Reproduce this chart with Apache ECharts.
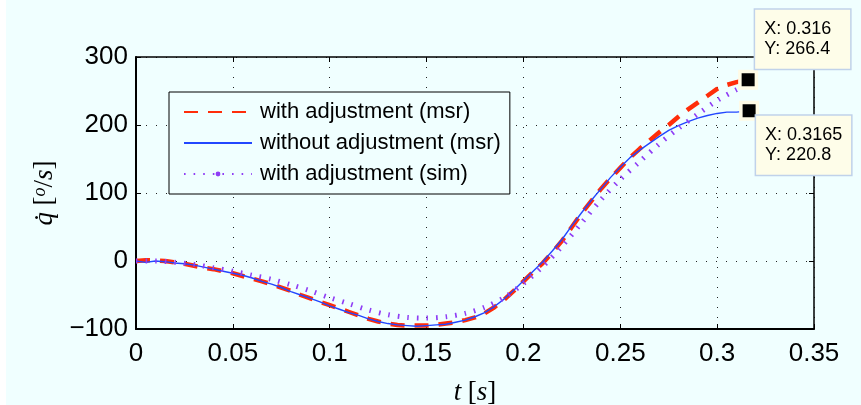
<!DOCTYPE html>
<html>
<head>
<meta charset="utf-8">
<script src="https://cdn.jsdelivr.net/npm/echarts@6/dist/echarts.min.js"></script>
<style>
  html, body { margin: 0; padding: 0; background: #fff; }
  #main { width: 861px; height: 405px; }
</style>
</head>
<body>
<div id="main"></div>
<script>
// time stamps [s]
var tMsr = [0, 0.005, 0.01, 0.015, 0.02, 0.025, 0.03, 0.035, 0.04, 0.045,
  0.05, 0.055, 0.06, 0.065, 0.07, 0.075, 0.08, 0.085, 0.09, 0.095,
  0.1, 0.105, 0.11, 0.115, 0.12, 0.125, 0.13, 0.135, 0.14, 0.145,
  0.15, 0.155, 0.16, 0.165, 0.17, 0.175, 0.18, 0.185, 0.19, 0.195,
  0.2, 0.205, 0.21, 0.215, 0.22, 0.225, 0.23, 0.235, 0.24, 0.245,
  0.25, 0.255, 0.26, 0.265, 0.27, 0.275, 0.28, 0.285, 0.29, 0.295,
  0.3, 0.305, 0.31];
var tEndAdj = 0.316;
var tEndNoAdj = 0.3165;
var tSim = [0, 0.01, 0.02, 0.03, 0.04, 0.05, 0.06, 0.07, 0.08, 0.09,
  0.1, 0.11, 0.12, 0.13, 0.14, 0.15, 0.16, 0.17, 0.18, 0.19,
  0.2, 0.21, 0.22, 0.23, 0.24, 0.25, 0.26, 0.27, 0.28, 0.29,
  0.3, 0.31, 0.316];

// qdot [deg/s]
var withAdjMsr = [0, 1, 1, 0, -2, -4, -7, -10, -12, -15,
  -18, -22, -26, -30, -34, -39, -44, -50, -55, -60,
  -65, -70, -75, -80, -85, -89, -92, -94, -95, -95,
  -95, -94, -92, -90, -87, -83, -77, -68, -57, -44,
  -30, -16, -3, 13, 30, 50, 70, 88, 106, 122,
  137, 152, 165, 177, 189, 200, 212, 223, 233, 243,
  253, 259, 263, 266.4];
var withoutAdjMsr = [0, -2, 0, -1, -3, -4, -6, -9, -12, -15,
  -18, -21, -25, -30, -34, -39, -45, -50, -55, -60,
  -66, -71, -76, -80, -85, -89, -92, -94, -95, -96,
  -95, -94, -93, -90, -87, -82, -76, -67, -56, -43,
  -29, -15, -1, 15, 32, 52, 71, 89, 106, 123,
  138, 152, 163, 173, 183, 192, 199, 205, 210, 214,
  217, 219, 219, 220.8];
var withAdjSim = [0, 0, -2, -5, -10, -15, -21, -27, -35, -44,
  -54, -63, -72, -79, -83, -84, -82, -77, -68, -54,
  -33, -8, 22, 56, 90, 120, 146, 172, 195, 216,
  236, 252, 259];

var tipPoints = [[tEndAdj, 266.4], [tEndNoAdj, 220.8]];

function pairs(ts, vs) {
  return vs.map(function (v, i) { return [ts[i], v]; });
}
var tAdj = tMsr.concat([tEndAdj]);
var tNoAdj = tMsr.concat([tEndNoAdj]);

var names = ['with adjustment (msr)', 'without adjustment (msr)', 'with adjustment (sim)'];
var font = 'Liberation Sans, Arial, Helvetica, sans-serif';
var serif = 'Liberation Serif, Times New Roman, serif';

var myChart = echarts.init(document.getElementById('main'));
var dotted = { color: '#222', width: 1, type: [1, 9] };
var option = {
  backgroundColor: '#f0ffff',
  animation: false,
  graphic: [{ type: 'rect', left: 0, top: 0, shape: { width: 6, height: 405 }, style: { fill: '#fff' }, silent: true }],
  grid: { left: 136, right: 47, top: 57, bottom: 76, containLabel: false, outerBoundsMode: 'none' },
  legend: {
    orient: 'vertical',
    left: 169, top: 92,
    data: [
      { name: names[0], itemStyle: { opacity: 0 } },
      { name: names[1], itemStyle: { opacity: 0 } },
      { name: names[2] }
    ],
    backgroundColor: '#f0ffff',
    borderColor: '#000', borderWidth: 1,
    padding: [9, 9, 9, 14],
    itemWidth: 68, itemHeight: 6, itemGap: 9,
    borderRadius: 0,
    textStyle: { fontFamily: font, fontSize: 22, color: '#000', lineHeight: 22, padding: [0, 0, 0, 3] }
  },
  xAxis: [{
    type: 'value', min: 0, max: 0.35, interval: 0.05,
    name: '{i|t}  {r|[}{i|s}{r|]}',
    nameLocation: 'middle', nameGap: 50,
    nameTextStyle: { rich: { i: { fontFamily: serif, fontStyle: 'italic', fontSize: 27, color: '#000' }, r: { fontFamily: serif, fontSize: 27, color: '#000' } } },
    axisLine: { onZero: false, lineStyle: { color: '#000', width: 2 } },
    axisTick: { inside: true, length: 5, lineStyle: { color: '#000', width: 1 } },
    axisLabel: { fontFamily: font, fontSize: 26, color: '#000', margin: 12,
      formatter: function (v) { return String(+v.toFixed(2)); } },
    splitLine: { show: true, lineStyle: dotted }
  }, {
    type: 'value', position: 'top', min: 0, max: 0.35, interval: 0.05,
    axisLine: { onZero: false, lineStyle: { color: '#000', width: 1.5 } },
    axisTick: { inside: true, length: 5, lineStyle: { color: '#000', width: 1 } },
    axisLabel: { show: false }, splitLine: { show: false }
  }],
  yAxis: [{
    type: 'value', min: -100, max: 300, interval: 100,
    name: '{i|q\u0307}  {r|[}{sup|o}{r|/}{i|s}{r|]}',
    nameLocation: 'middle', nameGap: 68, nameRotate: 90,
    nameTextStyle: { rich: {
      i: { fontFamily: serif, fontStyle: 'italic', fontSize: 27, color: '#000' },
      r: { fontFamily: serif, fontSize: 27, color: '#000' },
      sup: { fontFamily: serif, fontStyle: 'italic', fontSize: 18, color: '#000', verticalAlign: 'top' } } },
    axisLine: { onZero: false, lineStyle: { color: '#000', width: 2 } },
    axisTick: { inside: true, length: 5, lineStyle: { color: '#000', width: 1 } },
    axisLabel: { fontFamily: font, fontSize: 26, color: '#000', margin: 8,
      formatter: function (v) { return String(v).replace('-', '\u2212'); } },
    splitLine: { show: true, lineStyle: dotted }
  }, {
    type: 'value', position: 'right', min: -100, max: 300, interval: 100,
    axisLine: { onZero: false, lineStyle: { color: '#000', width: 1.5 } },
    axisTick: { inside: true, length: 5, lineStyle: { color: '#000', width: 1 } },
    axisLabel: { show: false }, splitLine: { show: false }
  }],
  series: [
    {
      name: names[0], type: 'line', symbol: 'none',
      data: pairs(tAdj, withAdjMsr),
      lineStyle: { color: '#ff2d0a', width: 4.5, type: [14, 10], cap: 'butt' },
      itemStyle: { color: '#ff2d0a' }
    },
    {
      name: names[1], type: 'line', symbol: 'none',
      data: pairs(tNoAdj, withoutAdjMsr),
      lineStyle: { color: '#2247ff', width: 1.4 },
      itemStyle: { color: '#2247ff' }
    },
    {
      name: names[2], type: 'line', symbol: 'circle', symbolSize: 4, showSymbol: false, smooth: 0.3,
      data: pairs(tSim, withAdjSim),
      lineStyle: { color: '#8f3df5', width: 5, type: [1.6, 8], cap: 'butt' },
      itemStyle: { color: '#8f3df5' }
    },
    {
      name: 'tips', type: 'scatter', symbol: 'rect', symbolSize: 16.5, z: 10,
      itemStyle: { color: '#000', borderColor: '#fffbe6', borderWidth: 3.5, opacity: 1 },
      data: tipPoints.map(function (p, i) {
        return {
          value: p,
          label: {
            show: true,
            position: i === 0 ? [17, -60] : [17, 15],
            align: 'left', verticalAlign: 'top',
            formatter: 'X: ' + p[0] + '\nY: ' + p[1],
            fontFamily: font, fontSize: 18, color: '#000', lineHeight: 20,
            width: 77, height: 40,
            padding: [9, 9, 10, 9],
            backgroundColor: '#fefde9',
            borderColor: '#c0d2ea', borderWidth: 1.5
          }
        };
      })
    }
  ]
};
myChart.setOption(option);
</script>
</body>
</html>
